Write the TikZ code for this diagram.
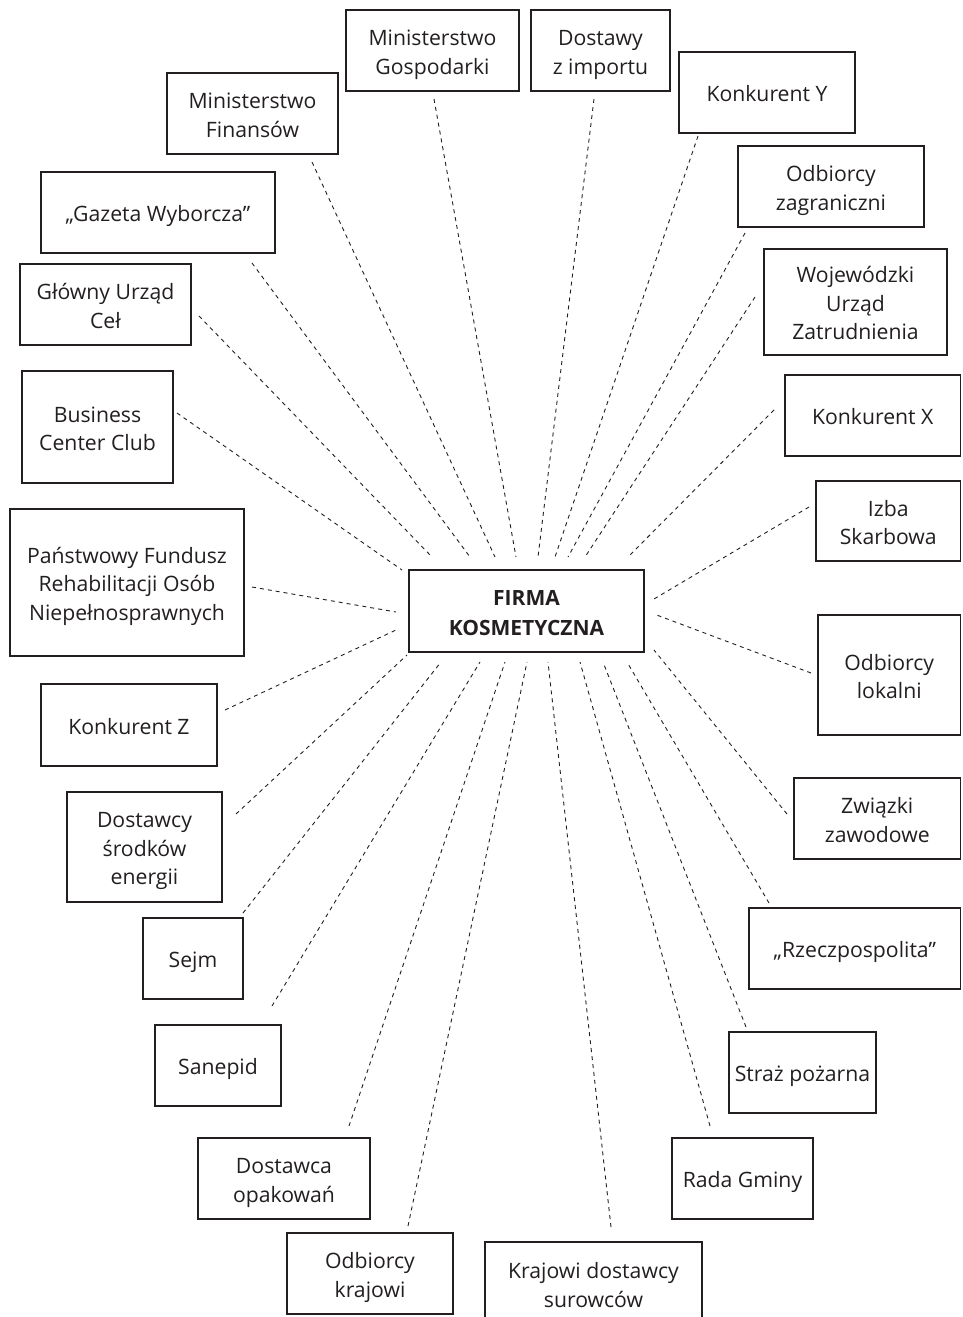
\documentclass[tikz,border=0pt]{standalone}
\usepackage{fontspec}
\setmainfont{Open Sans}
\usetikzlibrary{calc}
\definecolor{ink}{HTML}{231F20}
% invisible rules that fix the height of the first line and the depth of the last
\newcommand\headroom{\rule{0pt}{24.8pt}}
\newcommand\footroom{\rule[-6pt]{0pt}{6pt}}
\begin{document}
\begin{tikzpicture}[x=1pt,y=-1pt,
  box/.style={draw=ink, line width=1.3pt, fill=white, inner sep=0pt, outer sep=0pt,
    align=center, text=ink, font=\fontsize{21.2}{28.5}\selectfont},
  hub/.style={box, font=\fontsize{21}{29.3}\selectfont\bfseries},
  link/.style={draw=ink, line width=0.9pt, dash pattern=on 4pt off 4pt}]
\useasboundingbox (0,0) rectangle (962,1317);

% central organisation
\node[hub, minimum width=235pt, minimum height=82pt] (firma) at (526.5,611) {\headroom FIRMA\\KOSMETYCZNA\footroom};

% surrounding stakeholders
\node[box, minimum width=171pt, minimum height=81pt] (minfin) at (252.5,113.5) {\headroom Ministerstwo\\Finansów\footroom};
\node[box, minimum width=173pt, minimum height=81pt] (mingosp) at (432.5,50.5) {\headroom Ministerstwo\\Gospodarki\footroom};
\node[box, minimum width=139pt, minimum height=81pt] (dostawy) at (600.5,50.5) {\headroom Dostawy\\z importu\footroom};
\node[box, minimum width=176pt, minimum height=81pt] (konky) at (767,92.5) {\headroom Konkurent Y\footroom};
\node[box, minimum width=186pt, minimum height=81pt] (odbzag) at (831,186.5) {\headroom Odbiorcy\\zagraniczni\footroom};
\node[box, minimum width=183pt, minimum height=106pt] (wuz) at (855.5,302) {\headroom Wojewódzki\\Urząd\\Zatrudnienia\footroom};
\node[box, minimum width=234pt, minimum height=81pt] (gazeta) at (158,212.5) {\headroom „Gazeta Wyborcza”\footroom};
\node[box, minimum width=171pt, minimum height=81pt] (guc) at (105.5,304.5) {\headroom Główny Urząd\\Ceł\footroom};
\node[box, minimum width=151pt, minimum height=112pt] (bcc) at (97.5,427) {\headroom Business\\Center Club\footroom};
\node[box, minimum width=234pt, minimum height=147pt] (pfron) at (127,582.5) {\headroom Państwowy Fundusz\\Rehabilitacji Osób\\Niepełnosprawnych\footroom};
\node[box, minimum width=175.5pt, minimum height=81pt] (konkx) at (872.75,415.5) {\headroom Konkurent X\footroom};
\node[box, minimum width=144.5pt, minimum height=80pt] (izba) at (888.25,521) {\headroom Izba\\Skarbowa\footroom};
\node[box, minimum width=142.5pt, minimum height=120pt] (odblok) at (889.25,675) {\headroom Odbiorcy\\lokalni\footroom};
\node[box, minimum width=176pt, minimum height=82pt] (konkz) at (129,725) {\headroom Konkurent Z\footroom};
\node[box, minimum width=155pt, minimum height=110pt] (dostsr) at (144.5,847) {\headroom Dostawcy\\środków\\energii\footroom};
\node[box, minimum width=100pt, minimum height=81pt] (sejm) at (193,958.5) {\headroom Sejm\footroom};
\node[box, minimum width=166.5pt, minimum height=81pt] (zwiazki) at (877.25,818.5) {\headroom Związki\\zawodowe\footroom};
\node[box, minimum width=211.5pt, minimum height=81pt] (rzecz) at (854.75,948.5) {\headroom „Rzeczpospolita”\footroom};
\node[box, minimum width=126pt, minimum height=81pt] (sanepid) at (218,1065.5) {\headroom Sanepid\footroom};
\node[box, minimum width=172pt, minimum height=81pt] (dostop) at (284,1178.5) {\headroom Dostawca\\opakowań\footroom};
\node[box, minimum width=166pt, minimum height=81pt] (odbkraj) at (370,1273.5) {\headroom Odbiorcy\\krajowi\footroom};
\node[box, minimum width=147pt, minimum height=81pt] (straz) at (802.5,1072.5) {\headroom Straż pożarna\footroom};
\node[box, minimum width=141pt, minimum height=81pt] (rada) at (742.5,1178.5) {\headroom Rada Gminy\footroom};
\node[box, minimum width=217pt, minimum height=83pt] (krajdost) at (593.5,1283.5) {\headroom Krajowi dostawcy\\surowców\footroom};

% dashed relations, each leaving a small gap at both boxes
\foreach \n/\ox/\oy/\ix/\iy in {
  bcc/79.5/-14/-124.5/-41,
  guc/93.5/11.5/-94.5/-54,
  gazeta/94/50.5/-56.5/-54,
  minfin/59.5/48.5/-31.5/-54,
  mingosp/1.5/48.5/-10.5/-54,
  dostawy/-6.5/48.5/11.5/-54,
  konky/-69/43.5/28.5/-54,
  odbzag/-86/46.5/41.5/-54,
  wuz/-100.5/-5/58.5/-54,
  konkx/-98.75/-5.5/101.5/-54,
  izba/-79.25/-14/127.5/-12,
  odblok/-78.25/-2/127.5/3,
  zwiazki/-90.25/-4.5/127.5/39,
  rzecz/-85.75/-45.5/100.5/51,
  straz/-56.5/-45.5/76.5/51,
  rada/-32.5/-52.5/53.5/51,
  krajdost/17.5/-56.5/21.5/51,
  odbkraj/38/-47.5/0.5/51,
  dostop/65/-52.5/-21.5/51,
  sanepid/54/-59.5/-46.5/51,
  sejm/50/-45.5/-85.5/51,
  dostsr/91.5/-33/-119.5/44,
  konkz/96/-15/-130.5/19,
  pfron/125/4.5/-130.5/1}
  \draw[link] ($(\n.center)+(\ox,\oy)$) -- ($(firma.center)+(\ix,\iy)$);
\end{tikzpicture}
\end{document}
